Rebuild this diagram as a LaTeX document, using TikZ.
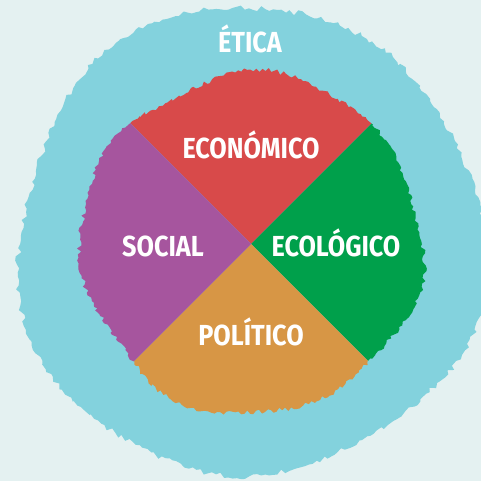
\documentclass[tikz,border=0pt]{standalone}
\usepackage{fontspec}
\setmainfont{Fira Sans}[FakeStretch=0.87]
\definecolor{bgc}{HTML}{E4F1F1}
\definecolor{ring}{HTML}{83D2DD}
\definecolor{eco}{HTML}{D84A4A}
\definecolor{ecol}{HTML}{00A04B}
\definecolor{pol}{HTML}{D79645}
\definecolor{soc}{HTML}{A6559E}
\tikzset{lbl/.style={text=white,font=\bfseries\fontsize{29}{29}\selectfont,inner sep=0pt,anchor=base}}
\begin{document}
\begin{tikzpicture}[x=1pt,y=-1pt]
\fill[bgc] (0,0) rectangle (481,481);
\useasboundingbox (0,0) rectangle (481,481);
\pgfmathsetseed{11}
% outer rough ring
\fill[ring] plot[domain=0:360,samples=360,variable=\t] ([shift={(250,242)}]\t:{234+5*sin(3*\t+40)+4*sin(5*\t+10)+6*rnd-3}) -- cycle;
% inner rough disk split in four
\begin{scope}
\clip plot[domain=0:360,samples=360,variable=\t] ([shift={(251,244)}]\t:{170+3*sin(4*\t+30)+3*sin(7*\t)+5*rnd-2.5}) -- cycle;
\coordinate (c) at (251,244);
\fill[eco] (c) -- (-149,-156) -- (651,-156) -- cycle;
\fill[ecol] (c) -- (651,-156) -- (651,644) -- cycle;
\fill[pol] (c) -- (651,644) -- (-149,644) -- cycle;
\fill[soc] (c) -- (-149,644) -- (-149,-156) -- cycle;
\end{scope}
\node[lbl] (etica) at (250,53) {ÉTICA};
\node[lbl] (economico) at (251,158) {ECONÓMICO};
\node[lbl] (social) at (163,256) {SOCIAL};
\node[lbl] (ecologico) at (336,256) {ECOLÓGICO};
\node[lbl] (politico) at (251,345) {POLÍTICO};
\end{tikzpicture}
\end{document}
